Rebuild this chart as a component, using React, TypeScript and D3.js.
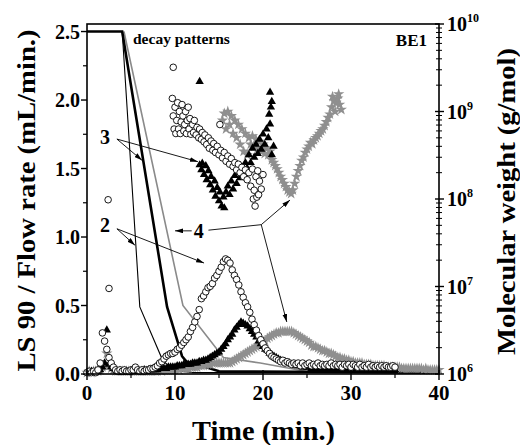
import React from 'react';
import * as d3 from 'd3';

const W = 520;
const H = 445;

// ---------- axes ----------
const TIME_TICKS = [0, 10, 20, 30, 40];
const TIME_MINOR = [5, 15, 25, 35];
const FLOW_TICKS = [0, 0.5, 1, 1.5, 2, 2.5];
const FLOW_TICK_LABELS = ['0.0', '0.5', '1.0', '1.5', '2.0', '2.5'];
const FLOW_MINOR = [0.25, 0.75, 1.25, 1.75, 2.25];
const MW_EXPONENTS = [6, 7, 8, 9, 10];

// ---------- LS 90 signals (sampled every 0.25 min from t = 0) ----------
const LS_STEP = 0.25;
const lsCircle = [
  0.01, 0.02, 0.01, 0.02, // 0
  0.01, 0.03, 0.08, 0.30, // 1
  0.24, 0.18, 0.12, 0.08, // 2
  0.05, 0.03, 0.02, 0.03, // 3
  0.02, 0.03, 0.02, 0.02, // 4
  0.03, 0.03, 0.05, 0.03, // 5
  0.02, 0.03, 0.02, 0.03, // 6
  0.03, 0.04, 0.04, 0.05, // 7
  0.06, 0.08, 0.09, 0.11, // 8
  0.13, 0.14, 0.15, 0.15, // 9
  0.16, 0.18, 0.19, 0.21, // 10
  0.23, 0.25, 0.27, 0.31, // 11
  0.34, 0.38, 0.42, 0.47, // 12
  0.55, 0.57, 0.60, 0.63, // 13
  0.64, 0.66, 0.70, 0.72, // 14
  0.75, 0.78, 0.82, 0.84, // 15
  0.83, 0.81, 0.76, 0.72, // 16
  0.69, 0.65, 0.60, 0.56, // 17
  0.52, 0.49, 0.45, 0.40, // 18
  0.36, 0.32, 0.28, 0.25, // 19
  0.22, 0.19, 0.17, 0.15, // 20
  0.13, 0.12, 0.11, 0.10, // 21
  0.09, 0.10, 0.08, 0.09, // 22
  0.08, 0.07, 0.08, 0.07, // 23
  0.08, 0.06, 0.08, 0.06, // 24
  0.07, 0.08, 0.06, 0.07, // 25
  0.06, 0.08, 0.06, 0.07, // 26
  0.06, 0.07, 0.06, 0.08, // 27
  0.06, 0.07, 0.06, 0.07, // 28
  0.05, 0.07, 0.06, 0.07, // 29
  0.05, 0.07, 0.06, 0.05, // 30
  0.07, 0.05, 0.06, 0.05, // 31
  0.07, 0.05, 0.06, 0.05, // 32
  0.06, 0.05, 0.06, 0.05, // 33
  0.06, 0.05, 0.05, 0.06, // 34
  0.05,                   // 35
];
const lsTriangle = [
  0.01, 0.01, 0.02, 0.01,
  0.02, 0.02, 0.03, 0.05,
  0.08, 0.32, 0.07, 0.05,
  0.04, 0.03, 0.02, 0.02,
  0.01, 0.02, 0.02, 0.01,
  0.02, 0.02, 0.02, 0.02,
  0.02, 0.02, 0.03, 0.02,
  0.03, 0.03, 0.03, 0.03,
  0.03, 0.04, 0.04, 0.04,
  0.04, 0.05, 0.05, 0.05,
  0.05, 0.06, 0.06, 0.06,
  0.07, 0.07, 0.07, 0.07,
  0.08, 0.08, 0.08, 0.09,
  0.09, 0.10, 0.10, 0.11,
  0.12, 0.13, 0.14, 0.15,
  0.16, 0.18, 0.20, 0.22,
  0.25, 0.27, 0.29, 0.32,
  0.34, 0.36, 0.38, 0.37,
  0.36, 0.35, 0.33, 0.31,
  0.29, 0.27, 0.24, 0.22,
  0.20, 0.18, 0.17, 0.15,
  0.14, 0.13, 0.12, 0.11,
  0.10, 0.09, 0.09, 0.08,
  0.08, 0.07, 0.07, 0.06,
  0.06, 0.06, 0.05, 0.05,
  0.05, 0.05, 0.04, 0.05,
  0.04, 0.04, 0.04, 0.04,
  0.04, 0.04, 0.04, 0.03,
  0.04, 0.03, 0.04, 0.03,
  0.03, 0.03, 0.03, 0.03,
  0.03, 0.03, 0.03, 0.03,
  0.03, 0.03, 0.03, 0.03,
  0.03, 0.03, 0.03, 0.03,
  0.03, 0.03, 0.03, 0.03,
  0.03, 0.03, 0.03, 0.03,
  0.03,
];
const lsStar = [
  0.01, 0.02, 0.01, 0.02,
  0.02, 0.02, 0.03, 0.05,
  0.07, 0.15, 0.06, 0.04,
  0.03, 0.02, 0.02, 0.02,
  0.02, 0.02, 0.02, 0.02,
  0.02, 0.02, 0.02, 0.02,
  0.02, 0.02, 0.02, 0.02,
  0.02, 0.02, 0.02, 0.02,
  0.02, 0.03, 0.02, 0.03,
  0.03, 0.03, 0.03, 0.03,
  0.03, 0.04, 0.03, 0.04,
  0.04, 0.04, 0.04, 0.05,
  0.05, 0.05, 0.05, 0.06,
  0.06, 0.06, 0.07, 0.07,
  0.07, 0.08, 0.08, 0.08,
  0.08, 0.08, 0.08, 0.08,
  0.08, 0.08, 0.09, 0.10,
  0.11, 0.12, 0.13, 0.14,
  0.15, 0.16, 0.17, 0.18,
  0.19, 0.20, 0.21, 0.22,
  0.23, 0.24, 0.26, 0.27,
  0.28, 0.29, 0.30, 0.30,
  0.31, 0.31, 0.31, 0.31,
  0.31, 0.31, 0.30, 0.29,
  0.28, 0.27, 0.26, 0.25,
  0.24, 0.23, 0.21, 0.20,
  0.20, 0.19, 0.18, 0.17,
  0.17, 0.16, 0.15, 0.15,
  0.14, 0.13, 0.12, 0.12,
  0.11, 0.11, 0.10, 0.10,
  0.09, 0.09, 0.08, 0.08,
  0.08, 0.08, 0.07, 0.07,
  0.07, 0.07, 0.06, 0.06,
  0.06, 0.06, 0.06, 0.06,
  0.05, 0.05, 0.05, 0.05,
  0.05, 0.05, 0.05, 0.04,
  0.04, 0.04, 0.04, 0.04,
  0.04, 0.04, 0.04, 0.04,
  0.04, 0.03, 0.04, 0.03,
  0.03, 0.03, 0.03, 0.03,
  0.03,
];

// ---------- flow-rate decay patterns ----------
const flowThinT = [0, 4.0, 6.0, 8.6, 9.8, 12, 40];
const flowThinV = [2.5, 2.5, 0.49, 0.10, 0.03, 0.01, 0.01];
const flowThickT = [0, 4.0, 9.1, 10.8, 11.3, 13, 15, 40];
const flowThickV = [2.5, 2.5, 0.49, 0.13, 0.09, 0.06, 0.02, 0.01];
const flowGrayT = [4.2, 10.9, 15.5, 19.7, 25.3, 40];
const flowGrayV = [2.5, 0.5, 0.12, 0.08, 0.015, 0.01];

// ---------- molecular weight (g/mol) ----------
const mwCircleT = [
  2.4, 2.5, 9.8,
  9.7, 9.8, 9.9, 10.0, 10.1, 10.2, 10.3, 10.4, 10.5, 10.6, 10.7, 10.8, 10.9, 11.0,
  11.1, 11.2, 11.3, 11.4, 11.5, 11.6, 11.7, 11.8, 12.0, 12.1, 12.2, 12.4, 12.5, 12.7,
  12.8, 13.0, 13.1, 13.3, 13.4, 13.6, 13.8, 13.9, 14.1, 14.3, 14.4, 14.6, 14.8, 15.0,
  15.1, 15.2, 15.4, 15.6, 15.8, 16.0, 16.2, 16.4, 16.6, 16.8, 17.0, 17.2, 17.4, 17.6,
  17.8, 18.0, 18.2, 18.4, 18.6, 18.8, 18.9, 19.0, 19.1, 19.2, 19.3, 19.4, 19.5, 19.6,
  19.8, 20.0,
];
const mwCircleV = [
  9.8e7, 9.5e6, 3.2e9,
  1.41e9, 8.9e8, 6.3e8, 1.12e9, 5.6e8, 7.9e8, 1.26e9, 6.3e8, 1.0e9, 5.6e8, 7.6e8, 1.2e9, 8.9e8, 6.0e8,
  7.1e8, 1.0e9, 5.6e8, 7.9e8, 1.12e9, 6.3e8, 8.3e8, 5.5e8, 7.1e8, 5.75e8, 7.9e8, 5.4e8, 6.6e8, 5.0e8,
  6.3e8, 4.8e8, 5.75e8, 4.5e8, 5.4e8, 4.2e8, 5.0e8, 3.8e8, 4.6e8, 3.6e8, 4.3e8, 3.4e8, 4.0e8, 3.2e8,
  7.1e8, 3.6e8, 2.95e8, 3.4e8, 2.7e8, 3.1e8, 2.5e8, 2.9e8, 2.35e8, 2.6e8, 2.15e8, 2.5e8, 2.0e8, 2.3e8,
  1.8e8, 2.15e8, 1.66e8, 2.0e8, 1.4e8, 2.2e8, 1.0e8, 1.26e8, 8.3e7, 1.8e8, 1.05e8, 2.1e8, 1.12e8, 1.6e8,
  1.3e8, 1.9e8,
];
const mwTriangleT = [
  12.8, 12.8, 13.0, 13.1, 13.3, 13.5, 13.6, 13.8, 14.0, 14.1, 14.3, 14.5, 14.6, 14.8,
  15.0, 15.1, 15.3, 15.5, 15.6, 15.8, 16.0, 16.2, 16.4, 16.6, 16.8, 17.0, 17.2, 17.4,
  17.6, 17.8, 18.0, 18.2, 18.4, 18.6, 18.8, 19.0, 19.2, 19.4, 19.6, 19.8, 20.0, 20.2,
  20.4, 20.6, 20.8, 20.7, 20.9, 21.0, 20.8, 21.2, 21.0,
];
const mwTriangleV = [
  2.2e9, 2.45e8, 2.15e8, 2.55e8, 1.9e8, 2.4e8, 1.66e8, 2.1e8, 1.45e8, 1.8e8, 1.26e8, 1.6e8, 1.07e8, 1.35e8,
  9.5e7, 1.2e8, 8.3e7, 1.05e8, 7.9e7, 1.2e8, 1.4e8, 1.12e8, 1.6e8, 1.3e8, 1.85e8, 1.5e8, 2.1e8, 1.75e8,
  2.3e8, 2.0e8, 2.6e8, 2.25e8, 3.2e8, 2.6e8, 3.8e8, 3.0e8, 4.2e8, 3.3e8, 4.8e8, 3.7e8, 5.5e8, 4.2e8,
  6.3e8, 5.0e8, 7.2e8, 9.3e8, 1.12e9, 1.3e9, 1.66e9, 4.0e8, 3.2e8,
];
const mwStarT = [
  15.4, 15.6, 15.8, 16.0, 16.2, 16.4, 16.6, 16.8, 17.0, 17.2, 17.4, 17.6, 17.8, 18.0,
  18.2, 18.4, 18.6, 18.8, 19.0, 19.2, 19.4, 19.6, 19.8, 20.0, 20.2, 20.4, 20.6, 20.8,
  21.0, 21.2, 21.4, 21.6, 21.8, 22.0, 22.2, 22.4, 22.6, 22.8, 23.0, 23.2, 23.4, 23.6,
  23.8, 24.0, 24.2, 24.4, 24.6, 24.8, 25.0, 25.2, 25.4, 25.6, 25.8, 26.0, 26.2, 26.4,
  26.6, 26.8, 27.0, 27.2, 27.4, 27.6, 27.8, 27.9, 28.1, 28.3, 28.5, 28.7, 28.9, 28.6, 28.2,
];
const mwStarV = [
  7.9e8, 9.5e8, 6.3e8, 1.0e9, 7.1e8, 8.9e8, 5.6e8, 7.9e8, 5.0e8, 7.1e8, 4.2e8, 6.3e8, 3.5e8, 5.6e8,
  3.2e8, 5.0e8, 4.2e8, 5.25e8, 4.0e8, 4.8e8, 3.8e8, 4.5e8, 3.5e8, 4.2e8, 3.3e8, 3.8e8, 3.2e8, 3.5e8,
  2.8e8, 2.6e8, 2.4e8, 2.2e8, 2.0e8, 1.8e8, 1.66e8, 1.5e8, 1.38e8, 1.26e8, 1.2e8, 1.15e8, 1.26e8, 1.5e8,
  1.8e8, 2.1e8, 2.4e8, 2.75e8, 3.0e8, 3.4e8, 3.7e8, 4.0e8, 4.4e8, 4.25e8, 4.7e8, 5.0e8, 5.25e8, 5.6e8,
  6.0e8, 6.3e8, 6.9e8, 7.6e8, 8.5e8, 9.3e8, 1.12e9, 1.48e9, 1.32e9, 1.26e9, 1.41e9, 1.2e9, 1.05e9, 1.58e9, 1.0e9,
];

// ---------- annotations (data coordinates) ----------
const LABEL_3 = { t: 2.05, v: 1.73 };
const ARROWS_3 = [[3.4, 1.715, 6.25, 1.56], [3.4, 1.715, 12.6, 1.55]];
const LABEL_2 = { t: 2.05, v: 1.09 };
const ARROWS_2 = [[3.4, 1.06, 5.45, 0.94], [3.4, 1.06, 13.3, 0.81]];
const LABEL_4 = { t: 12.7, v: 1.045 };
const ARROWS_4 = [[11.9, 1.045, 10.0, 1.045], [19.8, 1.09, 23.07, 1.27], [19.8, 1.09, 22.7, 0.38]];
const LINES_4 = [[13.8, 1.05, 19.8, 1.09]];

const FONT = '"Liberation Serif", "Times New Roman", serif';
const STAR_GRAY = '#8f8f8f';

export default function App() {
  const x = d3.scaleLinear().domain([0, 40]).range([87, 439]);
  const yL = d3.scaleLinear().domain([0, 2.555]).range([374, 24]);
  const yR = d3.scaleLog().domain([1e6, 1e10]).range([374, 24]);

  const lineOf = (ts: number[], vs: number[]) =>
    d3.line<number>().x((_, i) => x(ts[i])).y((v) => yL(v))(vs) || '';

  const triPath = d3.symbol(d3.symbolTriangle, 30)() || '';
  const starPath = d3.symbol(d3.symbolStar, 40)() || '';

  const lsPts = (arr: number[]) => arr.map((v, i) => [x(i * LS_STEP), yL(v)]);
  const mwPts = (ts: number[], vs: number[]) => ts.map((t, i) => [x(t), yR(vs[i])]);

  const minorLog: number[] = [];
  for (let e = 6; e < 10; e++) for (let k = 2; k <= 9; k++) minorLog.push(k * Math.pow(10, e));

  const starsAll = [...lsPts(lsStar), ...mwPts(mwStarT, mwStarV)];
  const trisAll = [...lsPts(lsTriangle), ...mwPts(mwTriangleT, mwTriangleV)];
  const circAll = [...lsPts(lsCircle), ...mwPts(mwCircleT, mwCircleV)];

  const arrow = (a: number[], k: string) => (
    <line key={k} x1={x(a[0])} y1={yL(a[1])} x2={x(a[2])} y2={yL(a[3])}
      stroke="#000" strokeWidth={0.9} markerEnd="url(#ah)" />
  );

  return (
    <svg width={W} height={H} style={{ position: 'absolute', left: 0, top: 0, background: '#fff' }}
      fontFamily={FONT} fontWeight="bold">
      <defs>
        <marker id="ah" viewBox="0 0 10 6" refX="10" refY="3" markerWidth="8" markerHeight="5"
          markerUnits="userSpaceOnUse" orient="auto">
          <path d="M0,0 L10,3 L0,6 Z" fill="#000" />
        </marker>
      </defs>
      <rect width={W} height={H} fill="#fff" />

      {/* flow decay lines */}
      <path d={lineOf(flowGrayT, flowGrayV)} fill="none" stroke="#8a8a8a" strokeWidth={1.6} />
      <path d={lineOf(flowThinT, flowThinV)} fill="none" stroke="#000" strokeWidth={1.1} />
      <path d={lineOf(flowThickT, flowThickV)} fill="none" stroke="#000" strokeWidth={2.6} />

      {/* markers */}
      {starsAll.map((p, i) => (
        <path key={'s' + i} d={starPath} transform={`translate(${p[0]},${p[1]})`} fill={STAR_GRAY} />
      ))}
      {trisAll.map((p, i) => (
        <path key={'t' + i} d={triPath} transform={`translate(${p[0]},${p[1]})`} fill="#000" />
      ))}
      {circAll.map((p, i) => (
        <circle key={'c' + i} cx={p[0]} cy={p[1]} r={3.3} fill="#fff" stroke="#000" strokeWidth={0.9} />
      ))}

      {/* frame */}
      <rect x={87} y={24} width={352} height={350} fill="none" stroke="#000" strokeWidth={1.6} />

      {/* bottom axis */}
      {TIME_TICKS.map((t) => (
        <g key={'xt' + t}>
          <line x1={x(t)} x2={x(t)} y1={370} y2={380} stroke="#000" strokeWidth={1.4} />
          <text x={x(t)} y={400} textAnchor="middle" fontSize={21}>{t}</text>
        </g>
      ))}
      {TIME_MINOR.map((t) => (
        <line key={'xm' + t} x1={x(t)} x2={x(t)} y1={374} y2={378} stroke="#000" strokeWidth={1.2} />
      ))}

      {/* left axis */}
      {FLOW_TICKS.map((v, i) => (
        <g key={'yl' + v}>
          <line x1={81} x2={87} y1={yL(v)} y2={yL(v)} stroke="#000" strokeWidth={1.4} />
          <text x={80} y={yL(v) + 7} textAnchor="end" fontSize={20}>{FLOW_TICK_LABELS[i]}</text>
        </g>
      ))}
      {FLOW_MINOR.map((v) => (
        <line key={'ylm' + v} x1={83} x2={87} y1={yL(v)} y2={yL(v)} stroke="#000" strokeWidth={1.2} />
      ))}

      {/* right axis */}
      {MW_EXPONENTS.map((e) => {
        const yy = yR(Math.pow(10, e));
        return (
          <g key={'yr' + e}>
            <line x1={435} x2={444} y1={yy} y2={yy} stroke="#000" strokeWidth={1.4} />
            <text x={447} y={yy + 7} fontSize={20}>
              10<tspan dy={-9} fontSize={12}>{e}</tspan>
            </text>
          </g>
        );
      })}
      {minorLog.map((m) => (
        <line key={'yrm' + m} x1={436} x2={442} y1={yR(m)} y2={yR(m)} stroke="#000" strokeWidth={1} />
      ))}

      {/* titles */}
      <text x={263.5} y={440} textAnchor="middle" fontSize={27} textLength={143}
        lengthAdjust="spacingAndGlyphs">Time (min.)</text>
      <text transform="translate(35,200.5) rotate(-90)" textAnchor="middle" fontSize={26}
        textLength={342} lengthAdjust="spacingAndGlyphs">
        LS 90 / Flow rate (mL/min.)
      </text>
      <text transform="translate(515,201.5) rotate(-90)" textAnchor="middle" fontSize={26}
        textLength={307} lengthAdjust="spacingAndGlyphs">
        Molecular weight (g/mol)
      </text>

      {/* in-plot text */}
      <text x={133} y={44} fontSize={15.5}>decay patterns</text>
      <text x={427} y={46} textAnchor="end" fontSize={17}>BE1</text>

      {/* annotations */}
      <text x={x(LABEL_3.t)} y={yL(LABEL_3.v) + 7} textAnchor="middle" fontSize={20}>3</text>
      {ARROWS_3.map((a, i) => arrow(a, 'a3' + i))}
      <text x={x(LABEL_2.t)} y={yL(LABEL_2.v) + 7} textAnchor="middle" fontSize={20}>2</text>
      {ARROWS_2.map((a, i) => arrow(a, 'a2' + i))}
      <text x={x(LABEL_4.t)} y={yL(LABEL_4.v) + 7} textAnchor="middle" fontSize={20}>4</text>
      {ARROWS_4.map((a, i) => arrow(a, 'a4' + i))}
      {LINES_4.map((a, i) => (
        <line key={'l4' + i} x1={x(a[0])} y1={yL(a[1])} x2={x(a[2])} y2={yL(a[3])} stroke="#000" strokeWidth={0.9} />
      ))}
    </svg>
  );
}
